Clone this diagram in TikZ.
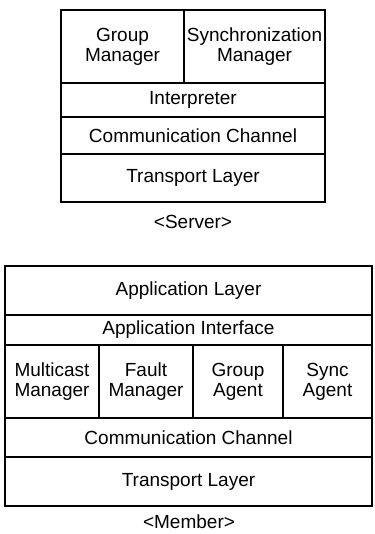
\documentclass[tikz,border=0pt]{standalone}
\usepackage{fontspec}
\setmainfont{Liberation Sans}
\usepackage{tikz}
\usetikzlibrary{positioning}

\begin{document}
\begin{tikzpicture}[x=1pt, y=-1pt,
    layer/.style={draw, line width=1.5pt, rectangle, inner sep=0pt, outer sep=0pt,
        align=center, font=\fontsize{19}{20}\selectfont},
    caption/.style={inner sep=0pt, font=\fontsize{19}{20}\selectfont}]
                \useasboundingbox (0, 0) rectangle (374, 534);

                % server stack
                \node [layer, minimum width=123, minimum height=73] (GM) at (122.5, 46.5) {Group\\Manager};
                \node [layer, minimum width=141, minimum height=73] (SM) at (254.5, 46.5) {Synchronization\\Manager};
                \node [layer, minimum width=264, minimum height=34] (I) at (193, 100) {Interpreter};
                \node [layer, minimum width=264, minimum height=37] (SC) at (193, 135.5) {Communication Channel};
                \node [layer, minimum width=264, minimum height=48] (ST) at (193, 178) {Transport Layer};
                \node [caption] (S) at (193, 222) {<Server>};

                % member stack
                \node [layer, minimum width=367, minimum height=49] (AL) at (188.5, 290.5) {Application Layer};
                \node [layer, minimum width=367, minimum height=30] (AI) at (188.5, 330) {Application Interface};
                \node [layer, minimum width=94, minimum height=73] (MM) at (52, 381.5) {Multicast\\Manager};
                \node [layer, minimum width=94, minimum height=73] (FM) at (146, 381.5) {Fault\\Manager};
                \node [layer, minimum width=90, minimum height=73] (GA) at (238, 381.5) {Group\\Agent};
                \node [layer, minimum width=89, minimum height=73] (SA) at (327.5, 381.5) {Sync\\Agent};
                \node [layer, minimum width=367, minimum height=39] (MC) at (188.5, 437.5) {Communication Channel};
                \node [layer, minimum width=367, minimum height=49] (MT) at (188.5, 481.5) {Transport Layer};
                \node [caption] (M) at (189, 522) {<Member>};
            \end{tikzpicture}
\end{document}
